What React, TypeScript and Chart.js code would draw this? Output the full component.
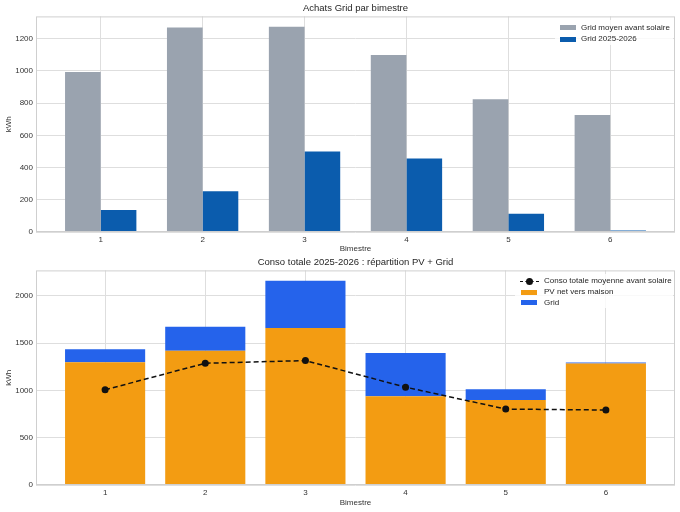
import { useEffect, useRef } from 'react';
import { Chart, registerables } from 'chart.js';

Chart.register(...registerables);

const bimestres = ['1', '2', '3', '4', '5', '6'];
const gridAvantSolaire = [993, 1270, 1275, 1100, 825, 727];
const grid2025 = [137, 253, 500, 457, 114, 9];
const pvVersMaison = [1298, 1421, 1660, 940, 898, 1286];
const consoAvantSolaire = [1007, 1288, 1316, 1035, 803, 793];
const achatsTicks = [0, 200, 400, 600, 800, 1000, 1200];
const consoTicks = [0, 500, 1000, 1500, 2000];

const FONT = '"Liberation Sans", Arial, sans-serif';
const TEXT = '#333333';
const GRID = '#dedede';

const points = (values: number[]) => values.map((v, i) => ({ x: i, y: v }));

const framePlugin = {
  id: 'frame',
  afterDatasetsDraw(chart: Chart) {
    const { ctx, chartArea } = chart;
    ctx.save();
    ctx.strokeStyle = '#cfcfcf';
    ctx.lineWidth = 1;
    ctx.strokeRect(chartArea.left + 0.5, chartArea.top + 0.5, chartArea.width - 1, chartArea.height - 1);
    ctx.restore();
  },
};

function xAxis(min: number, max: number, height: number, titleBottom: number) {
  return {
    type: 'linear' as const,
    min,
    max,
    offset: false,
    afterBuildTicks: (axis: any) => {
      axis.ticks = bimestres.map((_, i) => ({ value: i }));
    },
    afterFit: (scale: any) => {
      scale.height = height;
    },
    ticks: {
      callback: (value: any) => bimestres[value] ?? '',
      color: TEXT,
      font: { family: FONT, size: 8 },
      padding: 3,
      maxRotation: 0,
    },
    grid: { color: GRID, drawTicks: false, offset: false },
    border: { display: false },
    title: {
      display: true,
      text: 'Bimestre',
      color: TEXT,
      font: { family: FONT, size: 8 },
      padding: { top: 0, bottom: titleBottom },
    },
  };
}

function yAxis(max: number, tickValues: number[]) {
  return {
    min: 0,
    max,
    afterBuildTicks: (axis: any) => {
      axis.ticks = tickValues.map((v) => ({ value: v }));
    },
    afterFit: (scale: any) => {
      scale.width = 36;
    },
    ticks: {
      callback: (value: any) => String(value),
      color: TEXT,
      font: { family: FONT, size: 8 },
      padding: 3,
    },
    grid: { color: GRID, drawTicks: false },
    border: { display: false },
    title: {
      display: true,
      text: 'kWh',
      color: TEXT,
      font: { family: FONT, size: 8 },
      padding: { top: 4, bottom: 0 },
    },
  };
}

function GridChart() {
  const ref = useRef<HTMLCanvasElement | null>(null);
  useEffect(() => {
    if (ref.current === null) return () => {};
    const chart = new Chart(ref.current, {
      type: 'bar',
      data: {
        datasets: [
          {
            label: 'Grid moyen avant solaire',
            data: points(gridAvantSolaire),
            backgroundColor: '#9aa3af',
            categoryPercentage: 0.7,
            barPercentage: 1,
          },
          {
            label: 'Grid 2025-2026',
            data: points(grid2025),
            backgroundColor: '#0b5cad',
            categoryPercentage: 0.7,
            barPercentage: 1,
          },
        ],
      },
      options: {
        animation: false,
        responsive: false,
        layout: { padding: { left: 0, right: 5, top: 0, bottom: 0 } },
        plugins: {
          legend: { display: false },
          tooltip: { enabled: false },
          title: {
            display: true,
            text: 'Achats Grid par bimestre',
            color: '#262626',
            fullSize: false,
            font: { family: FONT, size: 9.5, weight: 'normal' },
            padding: { top: 3, bottom: 2 },
          },
        },
        scales: {
          x: xAxis(-0.635, 5.635, 24, 2.6),
          y: yAxis(1339, achatsTicks),
        },
      },
      plugins: [framePlugin],
    });
    return () => {
      chart.destroy();
    };
  }, []);
  return <canvas ref={ref} width={680} height={256} style={{ display: 'block' }} />;
}

function ConsoChart() {
  const ref = useRef<HTMLCanvasElement | null>(null);
  useEffect(() => {
    if (ref.current === null) return () => {};
    const chart = new Chart(ref.current, {
      type: 'bar',
      data: {
        datasets: [
          {
            type: 'line',
            label: 'Conso totale moyenne avant solaire',
            data: points(consoAvantSolaire),
            borderColor: '#111111',
            backgroundColor: '#111111',
            borderWidth: 1.5,
            borderDash: [5, 3],
            pointRadius: 3.5,
            pointBackgroundColor: '#111111',
            pointBorderWidth: 0,
            stack: 'avg',
            order: 0,
          },
          {
            label: 'PV net vers maison',
            data: points(pvVersMaison),
            backgroundColor: '#f39c12',
            categoryPercentage: 0.8,
            barPercentage: 1,
            stack: 'conso',
            order: 1,
          },
          {
            label: 'Grid',
            data: points(grid2025),
            backgroundColor: '#2563eb',
            categoryPercentage: 0.8,
            barPercentage: 1,
            stack: 'conso',
            order: 1,
          },
        ],
      },
      options: {
        animation: false,
        responsive: false,
        layout: { padding: { left: 0, right: 5, top: 0, bottom: 0 } },
        plugins: {
          legend: { display: false },
          tooltip: { enabled: false },
          title: {
            display: true,
            text: 'Conso totale 2025-2026 : répartition PV + Grid',
            color: '#262626',
            fullSize: false,
            font: { family: FONT, size: 9.5, weight: 'normal' },
            padding: { top: 1, bottom: 2 },
          },
        },
        scales: {
          x: xAxis(-0.69, 5.69, 27, 4),
          y: { ...yAxis(2270, consoTicks), stacked: true },
        },
      },
      plugins: [framePlugin],
    });
    return () => {
      chart.destroy();
    };
  }, []);
  return <canvas ref={ref} width={680} height={256} style={{ display: 'block' }} />;
}

const legendText: React.CSSProperties = {
  position: 'absolute',
  fontFamily: FONT,
  fontSize: 8,
  color: '#262626',
  lineHeight: '10px',
  whiteSpace: 'nowrap',
};

function Patch({ left, top, color }: { left: number; top: number; color: string }) {
  return (
    <div style={{ position: 'absolute', left, top, width: 16, height: 5, background: color }} />
  );
}

function Label({ left, center, text }: { left: number; center: number; text: string }) {
  return <div style={{ ...legendText, left, top: center - 5 }}>{text}</div>;
}

export default function App() {
  return (
    <div style={{ position: 'absolute', left: 0, top: 0, width: 680, height: 512, background: '#fff' }}>
      <GridChart />
      <ConsoChart />
      <div style={{ position: 'absolute', left: 555, top: 20, width: 118, height: 25, background: 'rgba(255,255,255,0.8)' }} />
      <Patch left={560} top={25} color="#9aa3af" />
      <Label left={581} center={27.7} text="Grid moyen avant solaire" />
      <Patch left={560} top={36.5} color="#0b5cad" />
      <Label left={581} center={39} text="Grid 2025-2026" />

      <div style={{ position: 'absolute', left: 515, top: 274, width: 158, height: 34, background: 'rgba(255,255,255,0.8)' }} />
      <div style={{ position: 'absolute', left: 520, top: 280.5, width: 19, height: 0, borderTop: '1.5px dashed #111' }} />
      <div style={{ position: 'absolute', left: 526, top: 278, width: 7, height: 7, borderRadius: '50%', background: '#111' }} />
      <Label left={544} center={281.3} text="Conso totale moyenne avant solaire" />
      <Patch left={521} top={289.5} color="#f39c12" />
      <Label left={544} center={292} text="PV net vers maison" />
      <Patch left={521} top={300.2} color="#2563eb" />
      <Label left={544} center={302.7} text="Grid" />
    </div>
  );
}
